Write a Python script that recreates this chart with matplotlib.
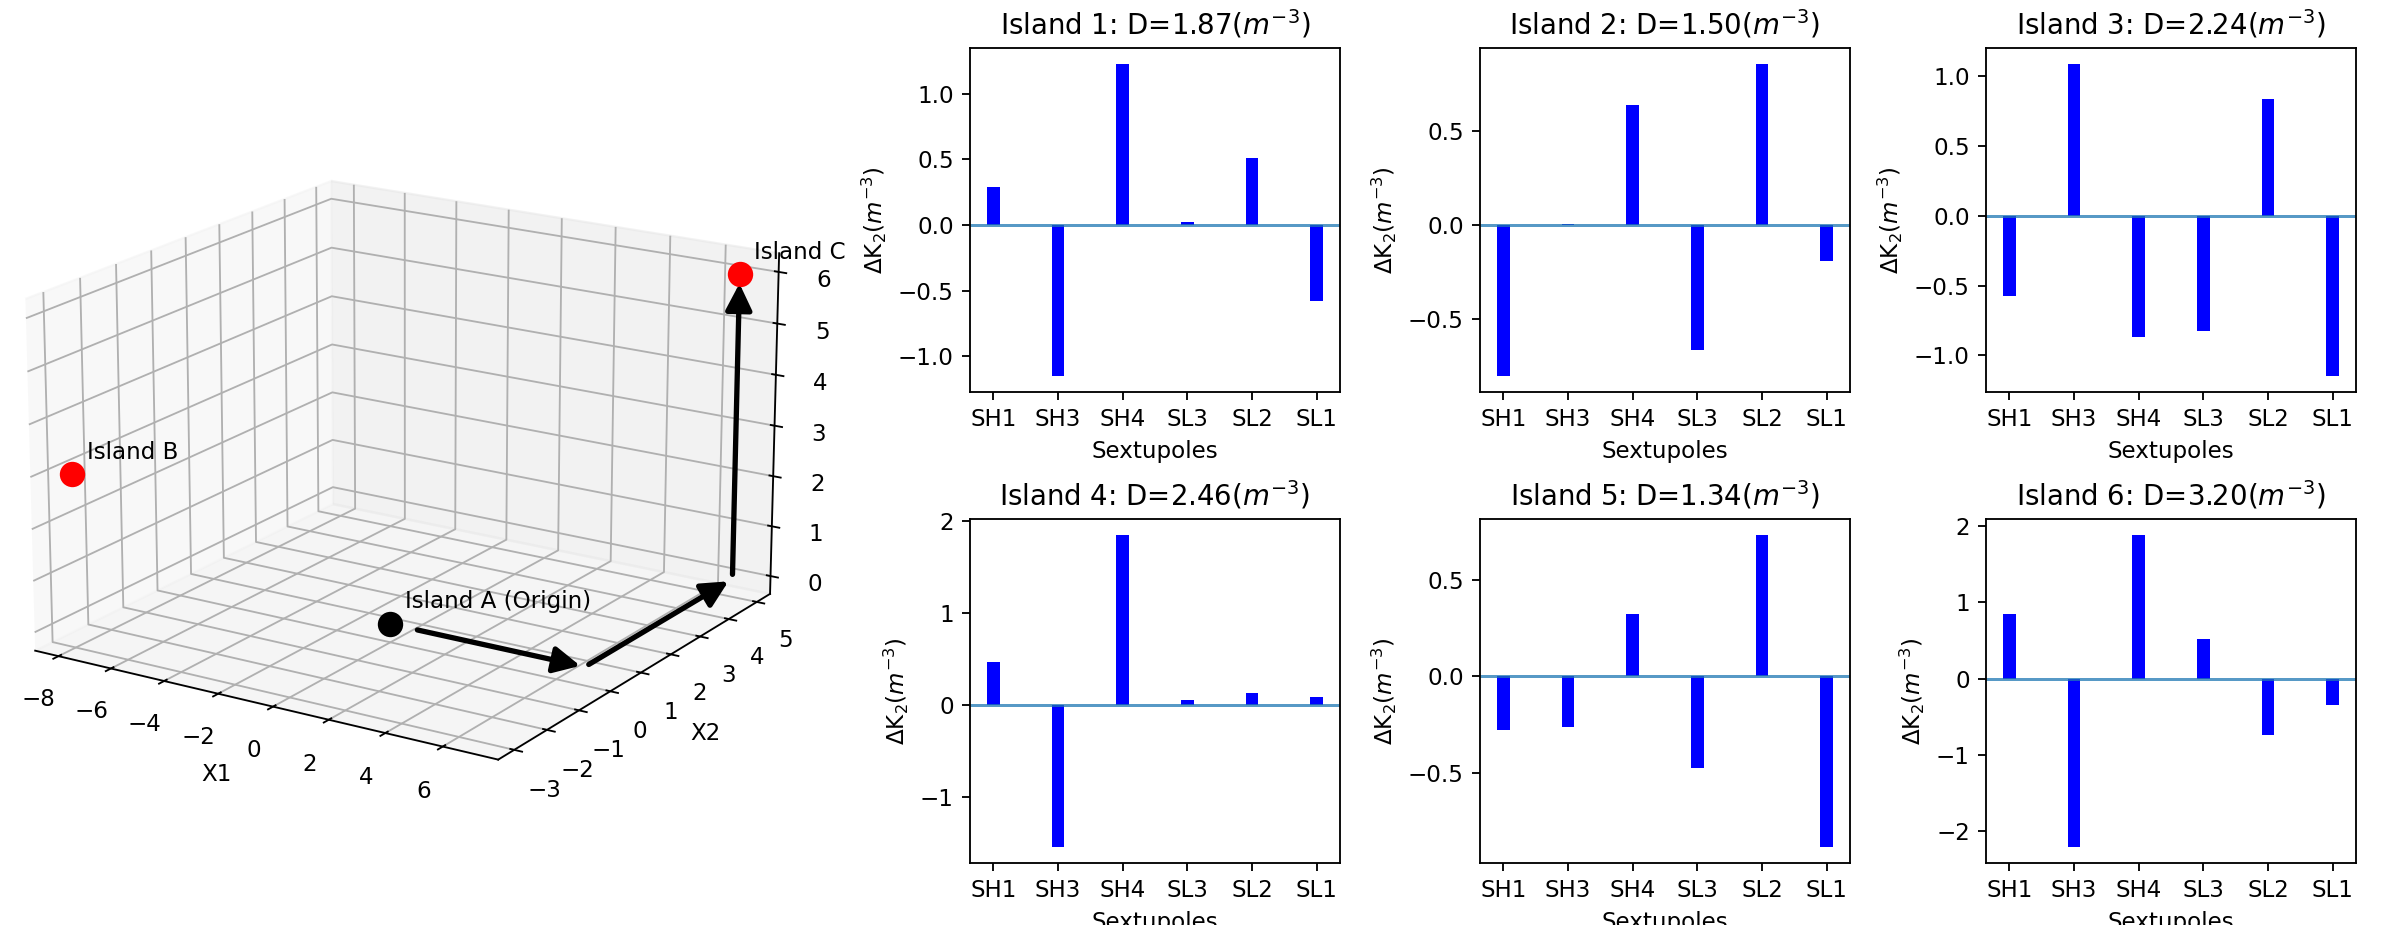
import numpy as np
import matplotlib
matplotlib.use("Agg")
import matplotlib.pyplot as plt
from matplotlib.patches import FancyArrowPatch
from mpl_toolkits.mplot3d import proj3d

# ---- data -------------------------------------------------------------
sextupoles = ["SH1", "SH3", "SH4", "SL3", "SL2", "SL1"]
island_ids = [1, 2, 3, 4, 5, 6]
distances = [1.87, 1.50, 2.24, 2.46, 1.34, 3.20]

dk_island1 = [0.286, -1.152, 1.228, 0.020, 0.511, -0.582]
dk_island2 = [-0.807, 0.005, 0.638, -0.665, 0.860, -0.191]
dk_island3 = [-0.574, 1.088, -0.871, -0.824, 0.838, -1.150]
dk_island4 = [0.473, -1.545, 1.855, 0.062, 0.135, 0.091]
dk_island5 = [-0.278, -0.264, 0.325, -0.474, 0.738, -0.889]
dk_island6 = [0.848, -2.210, 1.883, 0.513, -0.735, -0.348]
dk_all = [dk_island1, dk_island2, dk_island3, dk_island4, dk_island5, dk_island6]

point_names = ["Island A (Origin)", "Island B", "Island C"]
point_x = [0, -8, 7]
point_y = [0, -3, 5]
point_z = [0, 3, 6]
point_colors = ["black", "red", "red"]


class Arrow3D(FancyArrowPatch):
    """A 2D arrow whose end points live in 3D data space."""

    def __init__(self, xs, ys, zs, *args, **kwargs):
        super().__init__((0, 0), (0, 0), *args, **kwargs)
        self._verts3d = xs, ys, zs

    def do_3d_projection(self, renderer=None):
        xs3d, ys3d, zs3d = self._verts3d
        xs, ys, zs = proj3d.proj_transform(xs3d, ys3d, zs3d, self.axes.M)
        self.set_positions((xs[0], ys[0]), (xs[1], ys[1]))
        return np.min(zs)


def padded(values, frac=0.06):
    lo, hi = min(values), max(values)
    pad = (hi - lo) * frac
    return lo - pad, hi + pad


W, H, DPI = 2383, 925, 166
fig = plt.figure(figsize=(W / DPI, H / DPI), dpi=DPI)


def px_axes(left, top, width, height, **kw):
    return fig.add_axes([left / W, 1 - (top + height) / H, width / W, height / H], **kw)


# ---- 3D view of the islands ------------------------------------------
ax3 = px_axes(-12, 52, 820, 820, projection="3d")
ax3.view_init(elev=18, azim=-57.6)
ax3.set_box_aspect((4, 4, 2.7))
for name, x, y, z, c in zip(point_names, point_x, point_y, point_z, point_colors):
    ax3.scatter([x], [y], [z], color=c, s=100, depthshade=False)
    ax3.text(x + 0.25, y + 0.25, z + 0.25, name, fontsize=10)
ax3.set_xlim(*padded(point_x))
ax3.set_ylim(*padded(point_y))
ax3.set_zlim(*padded(point_z))

# path from A to C along the three coordinate directions
a = np.array([point_x[0], point_y[0], point_z[0]], dtype=float)
c = np.array([point_x[2], point_y[2], point_z[2]], dtype=float)
corners = [a, np.array([c[0], a[1], a[2]]), np.array([c[0], c[1], a[2]]), c]
shrink_start = [12, 2, 2]
shrink_end = [2, 2, 4]
for i in range(3):
    p0, p1 = corners[i], corners[i + 1]
    arr = Arrow3D([p0[0], p1[0]], [p0[1], p1[1]], [p0[2], p1[2]],
                  mutation_scale=24, lw=2.3, arrowstyle="-|>", color="black",
                  shrinkA=shrink_start[i], shrinkB=shrink_end[i])
    ax3.add_artist(arr)

ax3.set_xlabel("X1")
ax3.set_ylabel("X2")

# ---- bar charts of the sextupole changes -----------------------------
col_left = [970, 1480, 1986]
row_top = [48, 519]
ax_w, ax_h = 370, 344
x = np.arange(len(sextupoles))
for k, (iid, dist, vals) in enumerate(zip(island_ids, distances, dk_all)):
    r, cidx = divmod(k, 3)
    ax = px_axes(col_left[cidx], row_top[r], ax_w, ax_h)
    ax.bar(x, vals, width=0.2, color="blue")
    ax.axhline(0, color="C0", lw=1.3, alpha=0.75)
    ax.set_xticks(x, sextupoles)
    ax.set_xlabel("Sextupoles")
    ax.set_ylabel(r"$\Delta$K$_2$($m^{-3}$)")
    ax.set_title(f"Island {iid}: D={dist:.2f}($m^{{-3}}$)")

fig.savefig("out.png", dpi=DPI)
